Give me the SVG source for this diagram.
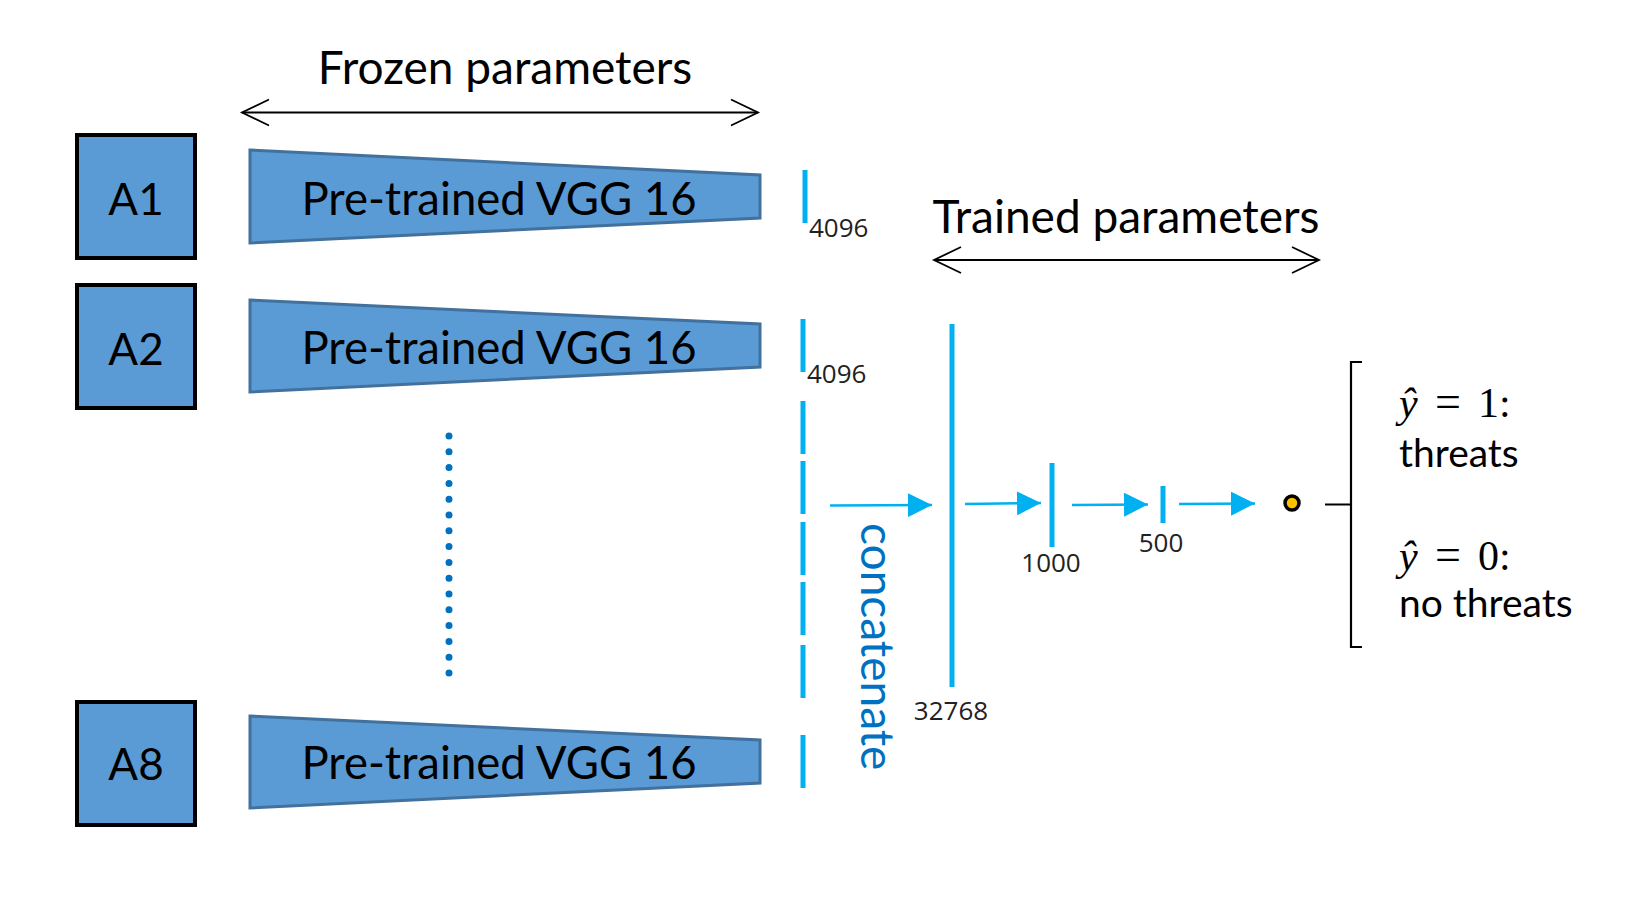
<svg xmlns="http://www.w3.org/2000/svg" width="1650" height="900" viewBox="0 0 1650 900">
<style>
.box{fill:#5B9BD5;stroke:#000;stroke-width:4}
.trap{fill:#5B9BD5;stroke:#41719C;stroke-width:3}
.big{font-family:Lato,"Liberation Sans",sans-serif;font-size:46px;fill:#000}
.blbl{font-family:Lato,"Liberation Sans",sans-serif;font-size:44px;fill:#000;text-anchor:middle}
.vgg{font-family:Lato,"Liberation Sans",sans-serif;font-size:45.5px;fill:#000;text-anchor:middle}
.num{font-family:"Open Sans","DejaVu Sans",sans-serif;font-size:26px;fill:#222}
.bar{stroke:#00B0F0;stroke-width:5}
.flow{stroke:#00B0F0;stroke-width:2.5;fill:none;marker-end:url(#tri)}
.dbl{stroke:#000;stroke-width:1.8;fill:none;marker-start:url(#chev);marker-end:url(#chev)}
.math{font-family:"Liberation Serif",serif;font-size:42px;fill:#000}
.rt{font-family:Lato,"Liberation Sans",sans-serif;font-size:39px;fill:#000}
</style>
<defs>
<marker id="tri" markerUnits="userSpaceOnUse" viewBox="0 0 24 24" markerWidth="24" markerHeight="24" refX="24" refY="12" orient="auto"><path d="M0,0 L24,12 L0,24 Z" fill="#00B0F0"/></marker>
<marker id="chev" markerUnits="userSpaceOnUse" viewBox="-2 -2 32 32" markerWidth="32" markerHeight="32" refX="27" refY="13" orient="auto-start-reverse"><path d="M0,0 L27,13 L0,26" fill="none" stroke="#000" stroke-width="1.8"/></marker>
</defs>

<g id="frozen-label">
<text class="big" x="505" y="84" text-anchor="middle">Frozen parameters</text>
<line class="dbl" x1="242" y1="112.5" x2="758" y2="112.5"/>
</g>
<g id="trained-label">
<text class="big" x="1126" y="233" text-anchor="middle">Trained parameters</text>
<line class="dbl" x1="934" y1="260" x2="1319" y2="260"/>
</g>

<g id="A1"><rect class="box" x="77" y="135" width="118" height="123"/><text class="blbl" x="136" y="215">A1</text></g>
<g id="A2"><rect class="box" x="77" y="285" width="118" height="123"/><text class="blbl" x="136" y="365">A2</text></g>
<g id="A8"><rect class="box" x="77" y="702" width="118" height="123"/><text class="blbl" x="136" y="780">A8</text></g>

<g id="vgg1"><polygon class="trap" points="250,150 760,175 760,218 250,243"/><text class="vgg" x="499" y="215">Pre-trained VGG 16</text></g>
<g id="vgg2"><polygon class="trap" points="250,300 760,324 760,367 250,392"/><text class="vgg" x="499" y="364">Pre-trained VGG 16</text></g>
<g id="vgg8"><polygon class="trap" points="250,716 760,740 760,783 250,808"/><text class="vgg" x="499" y="779">Pre-trained VGG 16</text></g>

<g id="ellipsis"><line x1="449" y1="436" x2="449" y2="673" stroke="#0070C0" stroke-width="7" stroke-linecap="round" stroke-dasharray="0 15.8"/></g>

<g id="features">
<line class="bar" x1="805" y1="170" x2="805" y2="223"/>
<text class="num" x="809" y="237">4096</text>
<line class="bar" x1="803" y1="319" x2="803" y2="372"/>
<text class="num" x="807" y="383">4096</text>
<line class="bar" x1="803" y1="401" x2="803" y2="454"/>
<line class="bar" x1="803" y1="461" x2="803" y2="514"/>
<line class="bar" x1="803" y1="522" x2="803" y2="575"/>
<line class="bar" x1="803" y1="582" x2="803" y2="635"/>
<line class="bar" x1="803" y1="645" x2="803" y2="698"/>
<line class="bar" x1="803" y1="735" x2="803" y2="788"/>
</g>

<g id="concat-label"><text x="861" y="523" transform="rotate(90 861 523)" font-family="Lato,'Liberation Sans',sans-serif" font-size="46" fill="#0070C0">concatenate</text></g>

<g id="layer32768"><line class="bar" x1="952" y1="324" x2="952" y2="687"/><text class="num" x="951" y="720" text-anchor="middle">32768</text></g>
<g id="layer1000"><line class="bar" x1="1052" y1="463" x2="1052" y2="547"/><text class="num" x="1051" y="572" text-anchor="middle">1000</text></g>
<g id="layer500"><line class="bar" x1="1163" y1="486" x2="1163" y2="523"/><text class="num" x="1161" y="552" text-anchor="middle">500</text></g>
<g id="output"><circle cx="1292" cy="503" r="7" fill="#FFC000" stroke="#000" stroke-width="3.5"/></g>

<g id="connectors">
<line class="flow" x1="830" y1="505.5" x2="932" y2="505"/>
<line class="flow" x1="965" y1="504" x2="1041" y2="503"/>
<line class="flow" x1="1072" y1="505" x2="1148" y2="504.5"/>
<line class="flow" x1="1179" y1="504" x2="1255" y2="503.5"/>
</g>

<g id="result">
<path d="M1362,362 L1351,362 L1351,647 L1362,647 M1325,504.5 L1351,504.5" fill="none" stroke="#000" stroke-width="2.2"/>
<text class="math" x="1399" y="417"><tspan font-style="italic">ŷ</tspan><tspan x="1435" font-size="46">=</tspan><tspan x="1478">1:</tspan></text>
<text class="rt" x="1399" y="467">threats</text>
<text class="math" x="1399" y="570"><tspan font-style="italic">ŷ</tspan><tspan x="1435" font-size="46">=</tspan><tspan x="1478">0:</tspan></text>
<text class="rt" x="1399" y="617">no threats</text>
</g>
</svg>
